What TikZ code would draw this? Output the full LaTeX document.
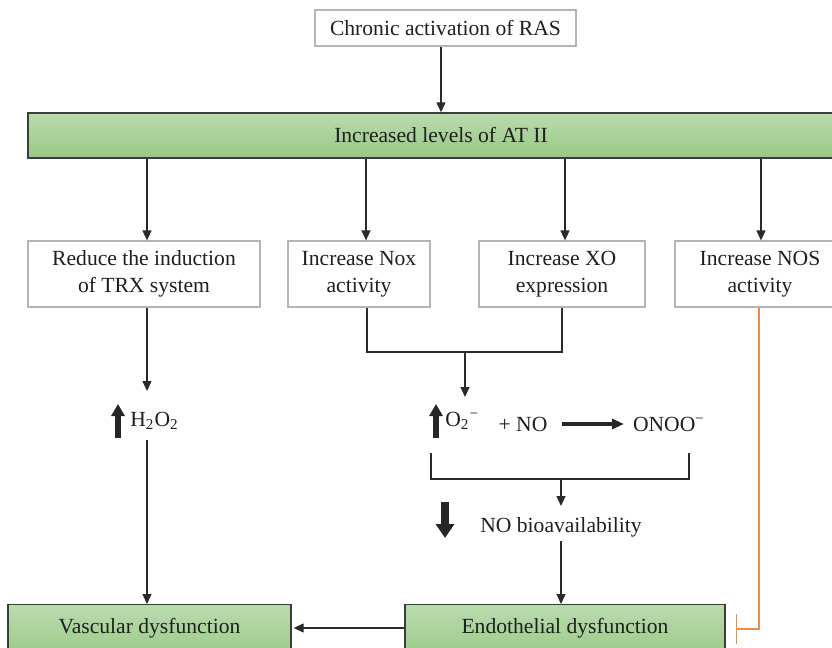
\documentclass[tikz,border=0pt]{standalone}
\usepackage{fontspec}
\setmainfont{Liberation Serif}
\usetikzlibrary{arrows.meta}
\definecolor{boxgray}{HTML}{B4B4B4}
\definecolor{lineC}{HTML}{2A2A2A}
\definecolor{gTop}{HTML}{BADBAE}
\definecolor{gBot}{HTML}{98C884}
\definecolor{edgeC}{HTML}{3C3C3C}
\definecolor{orangeC}{HTML}{EE8A4A}
\begin{document}
\begin{tikzpicture}[x=0.5pt,y=-0.5pt,
  font=\fontsize{10.8}{13.5}\selectfont, text=black!88,
  gbox/.style={draw=boxgray, line width=0.6pt, fill=white, inner sep=0pt, align=center},
  greenbox/.style={draw=edgeC, line width=0.7pt, top color=gTop, bottom color=gBot, inner sep=0pt},
  conn/.style={draw=lineC, line width=0.65pt},
  arr/.style={conn, -{Triangle[length=5pt,width=4.5pt]}},
  thickup/.style={draw=black!85, line width=2.6pt, -{Triangle[length=6pt,width=6.5pt]}},
  thickdown/.style={draw=black!85, line width=3.6pt, -{Triangle[length=7pt,width=9pt]}},
  thickright/.style={draw=black!85, line width=1.6pt, -{Triangle[length=6pt,width=5pt]}},
  txt/.style={inner sep=0pt},
  inhib/.style={draw=orangeC, line width=0.7pt, -{Bar[width=15pt]}}
]
\useasboundingbox (0,0) rectangle (832,648);
\clip (0,0) rectangle (832,648);

% boxes
\node[gbox, minimum width=130.5pt, minimum height=18pt] (top) at (445.5,28) {Chronic activation of RAS};
\node[greenbox, minimum width=413pt, minimum height=22.5pt] (bar) at (441,135.5) {Increased levels of AT II};
\node[gbox, minimum width=116pt, minimum height=33pt] (reduce) at (144,274) {Reduce the induction\\of TRX system};
\node[gbox, minimum width=71pt, minimum height=33pt] (nox) at (359,274) {Increase Nox\\activity};
\node[gbox, minimum width=83pt, minimum height=33pt] (xo) at (562,274) {Increase XO\\expression};
\node[gbox, minimum width=85pt, minimum height=33pt] (nos) at (760,274) {Increase NOS\\activity};
\node[greenbox, minimum width=141.5pt, text height=14.5pt, text depth=14pt, anchor=north] (vasc) at (149.5,604) {Vascular dysfunction};
\node[greenbox, minimum width=160pt, text height=14.5pt, text depth=14pt, anchor=north] (endo) at (565,604) {Endothelial dysfunction};

% text nodes
\node[txt, anchor=west] (h2o2) at (130,421) {H\textsubscript{2}O\textsubscript{2}};
\node[txt, anchor=west] (o2) at (445,421) {O\textsubscript{2}\textsuperscript{−}};
\node[txt] (no) at (523,424) {+ NO};
\node[txt] (onoo) at (669,424) {ONOO\textsuperscript{−}};
\node[txt] (nobio) at (561,527) {NO bioavailability};

\coordinate (hin) at (147,391);
\coordinate (hout) at (147,440);
\coordinate (mergeL) at (367,352);
\coordinate (mergeR) at (562,352);
\coordinate (mergeM) at (465,352);
\coordinate (mergeEnd) at (465,397);
\coordinate (brL) at (431,453);
\coordinate (brR) at (689,453);
\coordinate (brM) at (561,479);
\coordinate (brEnd) at (561,506);
\coordinate (bioOut) at (561,541);
\coordinate (orCorner) at (759,629);
\coordinate (orEnd) at (736,629);
\coordinate (horiz) at (0,628);

% connectors
\draw[arr] (top.south -| bar.north) -- (bar.north);
\draw[arr] (bar.south -| 147,0) -- (reduce.north -| 147,0);
\draw[arr] (bar.south -| 366,0) -- (nox.north -| 366,0);
\draw[arr] (bar.south -| 565,0) -- (xo.north -| 565,0);
\draw[arr] (bar.south -| 761,0) -- (nos.north -| 761,0);

\draw[arr] (reduce.south -| hin) -- (hin);
\draw[arr] (hout) -- (vasc.north -| hout);

\draw[conn] (nox.south -| mergeL) -- (mergeL) -- (mergeR) -- (xo.south -| mergeR);
\draw[arr] (mergeM) -- (mergeEnd);

\draw[conn] (brL) -- (brL |- brM) -- (brR |- brM) -- (brR);
\draw[arr] (brM) -- (brEnd);
\draw[arr] (bioOut) -- (endo.north -| bioOut);

\draw[arr, shorten >=1pt] (endo.west |- horiz) -- (vasc.east |- horiz);

\draw[inhib] (nos.south -| orCorner) -- (orCorner) -- (orEnd);

% thick arrows
\draw[thickup] (118,438) -- (118,404);
\draw[thickup] (436,438) -- (436,404);
\draw[thickright] (no.east -| 562,0) -- (onoo.west -| 624,0);
\draw[thickdown] (445,502) -- (445,538);
\end{tikzpicture}
\end{document}
